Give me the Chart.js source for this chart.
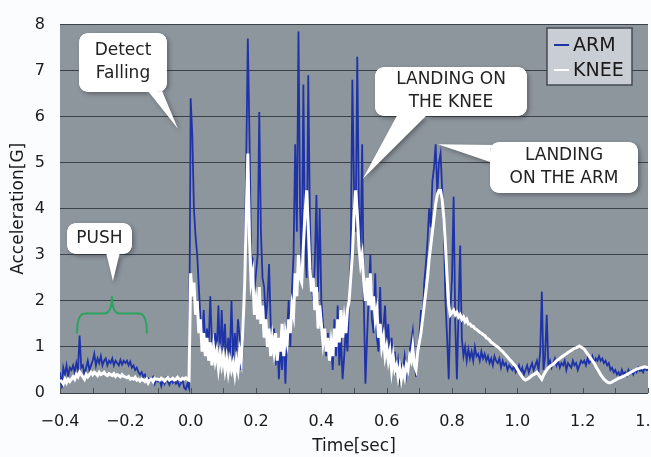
<!DOCTYPE html>
<html><head><meta charset="utf-8">
<script src="https://cdn.jsdelivr.net/npm/chart.js@4"></script>
<style>html,body{margin:0;padding:0;background:#fafcfd;}#wrap{width:651px;height:457px;}</style>
</head><body><div id="wrap"><canvas id="c" width="651" height="457"></canvas></div>
<script>
// ---- data ----
const START_TIME = -0.4;
const TIME_STEP = 0.005;
const seriesNames = ["ARM", "KNEE"];
const armValues = [
 0.45,0.1,0.55,0.4,0.6,0.35,0.55,0.5,0.6,0.45,0.65,0.5,1.25,0.55,0.6,0.4,0.55,0.7,0.5,0.6,
 0.7,0.85,0.6,0.75,0.65,0.8,0.6,0.7,0.75,0.6,0.7,0.65,0.75,0.6,0.7,0.65,0.6,0.72,0.62,0.7,
 0.65,0.7,0.6,0.68,0.55,0.6,0.5,0.55,0.45,0.4,0.45,0.35,0.4,0.3,0.32,0.25,0.3,0.35,0.2,0.3,
 0.25,0.3,0.15,0.28,0.2,0.32,0.25,0.18,0.3,0.22,0.28,0.2,0.25,0.15,0.22,0.3,0.12,0.08,0.2,0.1,
 6.4,5.6,4.0,3.4,3.0,2.3,1.6,1.1,1.8,0.95,1.4,1.0,2.1,1.1,0.8,1.3,0.9,1.9,0.7,1.8,
 0.9,1.5,0.6,1.2,0.8,2.0,0.7,1.3,0.9,1.6,1.2,0.5,1.0,2.5,5.0,7.7,5.6,3.0,2.9,2.2,
 2.6,3.0,6.1,3.5,2.5,2.3,1.6,2.0,2.8,1.5,1.0,1.4,0.6,1.2,0.3,1.0,0.5,1.4,0.2,1.3,
 2.0,1.0,2.2,3.0,5.4,3.5,7.85,4.0,2.6,6.7,3.2,2.5,6.9,3.8,2.4,2.0,2.8,4.3,2.2,4.0,
 2.0,1.5,1.2,0.8,1.3,0.7,1.0,0.5,1.6,0.8,1.9,0.6,1.2,0.3,0.8,1.4,0.9,2.0,3.0,6.8,
 4.5,3.5,7.3,4.0,3.0,5.4,2.0,0.2,1.2,2.1,3.0,1.6,1.3,2.6,1.2,0.9,2.3,1.0,1.4,1.9,
 1.0,1.5,0.7,1.2,0.6,0.9,0.4,0.7,0.3,0.6,0.5,0.8,0.4,0.7,0.9,1.1,1.35,0.8,0.35,0.9,
 1.2,1.8,1.5,2.4,2.8,3.3,4.0,3.6,4.6,4.9,5.4,4.3,5.0,5.2,4.4,3.6,2.0,1.2,0.3,1.8,
 2.5,4.26,1.5,0.3,1.8,3.2,1.2,0.8,1.0,0.7,0.95,0.75,0.9,0.7,1.0,0.8,0.85,0.7,0.9,0.75,
 0.85,0.7,0.8,0.65,0.75,0.6,0.8,0.7,0.65,0.75,0.55,0.7,0.6,0.65,0.5,0.6,0.55,0.5,0.6,0.45,
 0.5,0.6,0.45,0.55,0.4,0.5,0.6,0.45,0.55,0.65,0.5,0.6,0.7,0.5,0.9,2.2,0.5,0.8,1.7,0.6,
 0.7,0.55,0.65,0.75,0.6,0.7,0.55,0.65,0.6,0.7,0.5,0.65,0.6,0.55,0.7,0.6,0.65,0.5,0.6,0.7,
 0.65,0.7,0.6,0.75,0.65,0.7,0.8,0.65,0.75,0.7,0.8,0.7,0.75,0.65,0.7,0.6,0.65,0.5,0.55,0.45,
 0.5,0.4,0.45,0.35,0.5,0.4,0.45,0.38,0.5,0.42,0.48,0.4,0.5,0.45,0.55,0.48,0.5,0.45,0.55,0.5,0.5
];
const kneeValues = [
 0.28,0.25,0.2,0.3,0.22,0.3,0.25,0.3,0.35,0.3,0.4,0.35,0.45,0.4,0.35,0.3,0.4,0.35,0.4,0.45,
 0.4,0.45,0.42,0.38,0.45,0.4,0.42,0.45,0.4,0.38,0.42,0.4,0.38,0.42,0.36,0.4,0.38,0.35,0.4,0.36,
 0.35,0.33,0.36,0.3,0.32,0.3,0.34,0.28,0.3,0.26,0.3,0.28,0.25,0.3,0.22,0.28,0.3,0.25,0.32,0.3,
 0.3,0.28,0.32,0.3,0.26,0.3,0.33,0.28,0.3,0.32,0.28,0.3,0.34,0.3,0.28,0.32,0.3,0.33,0.3,0.28,
 2.6,2.1,2.4,1.7,2.0,1.3,1.6,0.9,1.3,0.8,1.2,0.7,1.1,0.6,1.0,0.7,0.9,0.55,0.85,0.6,
 0.8,0.5,0.75,0.45,0.7,0.5,0.65,0.4,0.7,0.5,0.9,0.7,1.4,2.3,3.8,5.2,3.4,2.4,2.6,1.7,
 2.0,1.6,2.3,1.5,1.9,1.2,1.6,1.0,1.4,0.8,1.2,0.9,1.3,0.7,1.2,0.9,1.5,0.8,1.3,1.1,
 1.6,1.3,1.9,1.7,2.6,2.1,3.0,2.5,2.4,3.2,3.9,4.4,3.6,2.7,2.2,2.5,1.8,2.3,1.4,1.9,
 1.5,1.1,1.4,0.9,1.2,0.7,1.1,0.8,1.4,1.0,1.6,1.1,1.8,1.2,1.6,1.3,1.8,2.0,2.5,3.0,
 3.8,4.4,3.9,3.2,2.8,3.0,2.4,2.0,2.5,1.9,2.6,1.8,2.1,1.6,1.8,1.2,1.5,1.0,1.2,0.8,
 1.0,0.7,0.9,0.5,0.8,0.5,0.6,0.35,0.55,0.3,0.5,0.35,0.6,0.5,0.8,0.7,1.0,0.6,0.5,0.9,
 1.1,1.3,1.6,1.9,2.2,2.5,2.9,3.2,3.5,3.8,4.1,4.3,4.4,4.4,4.2,3.8,3.2,2.5,1.9,1.7,
 1.75,1.8,1.7,1.75,1.65,1.7,1.6,1.65,1.55,1.6,1.5,1.5,1.45,1.45,1.4,1.38,1.35,1.32,1.3,1.27,
 1.25,1.2,1.18,1.15,1.1,1.08,1.05,1.02,1.0,0.97,0.93,0.9,0.86,0.82,0.78,0.74,0.7,0.66,0.62,0.58,
 0.52,0.46,0.4,0.35,0.3,0.28,0.3,0.32,0.35,0.38,0.4,0.42,0.45,0.4,0.35,0.3,0.38,0.45,0.5,0.55,
 0.58,0.6,0.63,0.66,0.7,0.72,0.75,0.78,0.8,0.83,0.85,0.88,0.9,0.92,0.95,0.97,0.98,1.0,1.02,1.0,
 0.98,0.95,0.9,0.85,0.8,0.75,0.7,0.65,0.58,0.52,0.46,0.4,0.35,0.3,0.27,0.24,0.22,0.22,0.24,0.26,
 0.28,0.3,0.32,0.33,0.35,0.36,0.38,0.4,0.42,0.44,0.46,0.48,0.5,0.52,0.53,0.54,0.55,0.56,0.57,0.56,0.55
];
const xAxisMin = -0.4, xAxisMax = 1.4, xTickStep = 0.1;
const yAxisMin = 0, yAxisMax = 8, yTickStep = 1;
const xTitle = "Time[sec]";
const yTitle = "Acceleration[G]";
const calloutTexts = [["Detect","Falling"],["PUSH"],["LANDING ON","THE KNEE"],["LANDING","ON THE ARM"]];
const calloutTips = [[-0.039,5.74],[-0.238,2.43],[0.527,4.65],[0.757,5.4]];
const braceRange = [-0.348,-0.134,1.29,2.1]; // t from, t to, bottom value, peak value

// ---- styling / layout ----
const FONT = "'DejaVu Sans', sans-serif";
const PLOT_BG = "#8d959d";
const GRID = "#3a4148";
const ARM_COLOR = "#1f33a8";
const KNEE_COLOR = "#ffffff";
const calloutBoxes = [
  {x:79,y:33,w:88,h:59, base:[[144,86],[160,86]]},
  {x:67,y:223,w:65,h:31, base:[[105,248],[121,248]]},
  {x:375,y:67,w:152,h:49, base:[[400,110],[432,110]]},
  {x:490,y:142,w:148,h:51, base:[[496,145],[496,164]]}
];
const legendBox = {x:547,y:28,w:85,h:57};

const times = armValues.map((_, i) => +(START_TIME + i * TIME_STEP).toFixed(3));
const toXY = vals => vals.map((v, i) => ({x: times[i], y: v}));

function roundRectPath(ctx, x, y, w, h, r) {
  ctx.moveTo(x + r, y);
  ctx.lineTo(x + w - r, y); ctx.quadraticCurveTo(x + w, y, x + w, y + r);
  ctx.lineTo(x + w, y + h - r); ctx.quadraticCurveTo(x + w, y + h, x + w - r, y + h);
  ctx.lineTo(x + r, y + h); ctx.quadraticCurveTo(x, y + h, x, y + h - r);
  ctx.lineTo(x, y + r); ctx.quadraticCurveTo(x, y, x + r, y);
  ctx.closePath();
}

const deco = {
  id: 'deco',
  beforeDraw(chart) {
    const {ctx, chartArea: a} = chart;
    ctx.save();
    ctx.fillStyle = PLOT_BG;
    ctx.fillRect(a.left, a.top, a.right - a.left, a.bottom - a.top);
    ctx.restore();
  },
  afterDraw(chart) {
    const {ctx, chartArea: a} = chart;
    const xs = chart.scales.x, ys = chart.scales.y;
    ctx.save();
    // inner tick marks on the time axis
    ctx.strokeStyle = "#4a5158"; ctx.lineWidth = 1;
    xs.ticks.forEach(t => {
      const px = Math.round(xs.getPixelForValue(t.value)) + 0.5;
      ctx.beginPath(); ctx.moveTo(px, a.bottom); ctx.lineTo(px, a.bottom - 5); ctx.stroke();
    });
    // green brace
    const bx0 = xs.getPixelForValue(braceRange[0]), bx1 = xs.getPixelForValue(braceRange[1]);
    const by0 = ys.getPixelForValue(braceRange[2]), byp = ys.getPixelForValue(braceRange[3]);
    const bm = (bx0 + bx1) / 2, bh = by0 - 20;
    ctx.strokeStyle = "#2ba45e"; ctx.lineWidth = 2;
    ctx.beginPath();
    ctx.moveTo(bx0, by0);
    ctx.quadraticCurveTo(bx0, bh, bx0 + 8, bh);
    ctx.lineTo(bm - 8, bh);
    ctx.quadraticCurveTo(bm, bh, bm, byp);
    ctx.quadraticCurveTo(bm, bh, bm + 8, bh);
    ctx.lineTo(bx1 - 8, bh);
    ctx.quadraticCurveTo(bx1, bh, bx1, by0);
    ctx.stroke();
    // callouts
    calloutBoxes.forEach((b, i) => {
      const tx = xs.getPixelForValue(calloutTips[i][0]);
      const ty = ys.getPixelForValue(calloutTips[i][1]);
      ctx.save();
      ctx.shadowColor = "rgba(40,40,40,0.45)";
      ctx.shadowBlur = 4; ctx.shadowOffsetX = 2; ctx.shadowOffsetY = 2;
      ctx.fillStyle = "#ffffff";
      ctx.beginPath();
      roundRectPath(ctx, b.x, b.y, b.w, b.h, 11);
      ctx.moveTo(b.base[0][0], b.base[0][1]);
      ctx.lineTo(tx, ty);
      ctx.lineTo(b.base[1][0], b.base[1][1]);
      ctx.closePath();
      ctx.fill();
      ctx.restore();
      ctx.fillStyle = "#ffffff";
      ctx.beginPath();
      roundRectPath(ctx, b.x, b.y, b.w, b.h, 11);
      ctx.fill();
      ctx.fillStyle = "#222222";
      ctx.font = "17px " + FONT;
      ctx.textAlign = "center"; ctx.textBaseline = "middle";
      const lines = calloutTexts[i];
      const lh = 23, cy = b.y + b.h / 2;
      lines.forEach((ln, k) => {
        ctx.fillText(ln, b.x + b.w / 2, cy + (k - (lines.length - 1) / 2) * lh);
      });
    });
    // legend
    const L = legendBox;
    ctx.fillStyle = "#c9ced4";
    ctx.fillRect(L.x, L.y, L.w, L.h);
    ctx.strokeStyle = "#454a50"; ctx.lineWidth = 1.5;
    ctx.strokeRect(L.x, L.y, L.w, L.h);
    ctx.font = "19px " + FONT;
    ctx.textAlign = "left"; ctx.textBaseline = "middle";
    chart.data.datasets.forEach((ds, i) => {
      const yy = L.y + 17 + i * 25;
      ctx.strokeStyle = ds.borderColor; ctx.lineWidth = 2;
      ctx.beginPath(); ctx.moveTo(L.x + 7, yy); ctx.lineTo(L.x + 22, yy); ctx.stroke();
      ctx.fillStyle = "#1a1a1a";
      ctx.fillText(ds.label, L.x + 26, yy + 1);
    });
    ctx.restore();
  }
};

new Chart(document.getElementById('c'), {
  type: 'line',
  data: {
    datasets: [
      {label: seriesNames[0], data: toXY(armValues), borderColor: ARM_COLOR, borderWidth: 1.8, pointRadius: 0, order: 1},
      {label: seriesNames[1], data: toXY(kneeValues), borderColor: KNEE_COLOR, borderWidth: 3, pointRadius: 0, order: 0}
    ]
  },
  options: {
    responsive: false,
    animation: false,
    layout: {padding: {top: 21, right: 3, left: 0, bottom: 0}},
    plugins: {legend: {display: false}, tooltip: {enabled: false}},
    scales: {
      x: {
        type: 'linear', min: xAxisMin, max: xAxisMax,
        grid: {display: false}, border: {display: false},
        ticks: {
          stepSize: xTickStep, autoSkip: false, maxRotation: 0, padding: 11,
          color: "#1a1a1a", font: {family: FONT, size: 16},
          callback: v => { const k = Math.round(v * 10); return k % 2 === 0 ? (k / 10).toFixed(1).replace('-', '\u2212') : ''; }
        },
        title: {display: true, text: xTitle, color: "#1a1a1a", font: {family: FONT, size: 17}, padding: {top: 0, bottom: 0}},
        afterFit(s) { s.paddingLeft = 0; s.paddingRight = 0; s.height = 64; }
      },
      y: {
        min: yAxisMin, max: yAxisMax,
        grid: {color: GRID, lineWidth: 1, drawTicks: false}, border: {display: false},
        ticks: {stepSize: yTickStep, padding: 15, color: "#1a1a1a", font: {family: FONT, size: 16}},
        title: {display: true, text: yTitle, color: "#1a1a1a", font: {family: FONT, size: 17}, padding: {top: 8, bottom: 0}},
        afterFit(s) { s.width = 60; }
      }
    }
  },
  plugins: [deco]
});
</script></body></html>
